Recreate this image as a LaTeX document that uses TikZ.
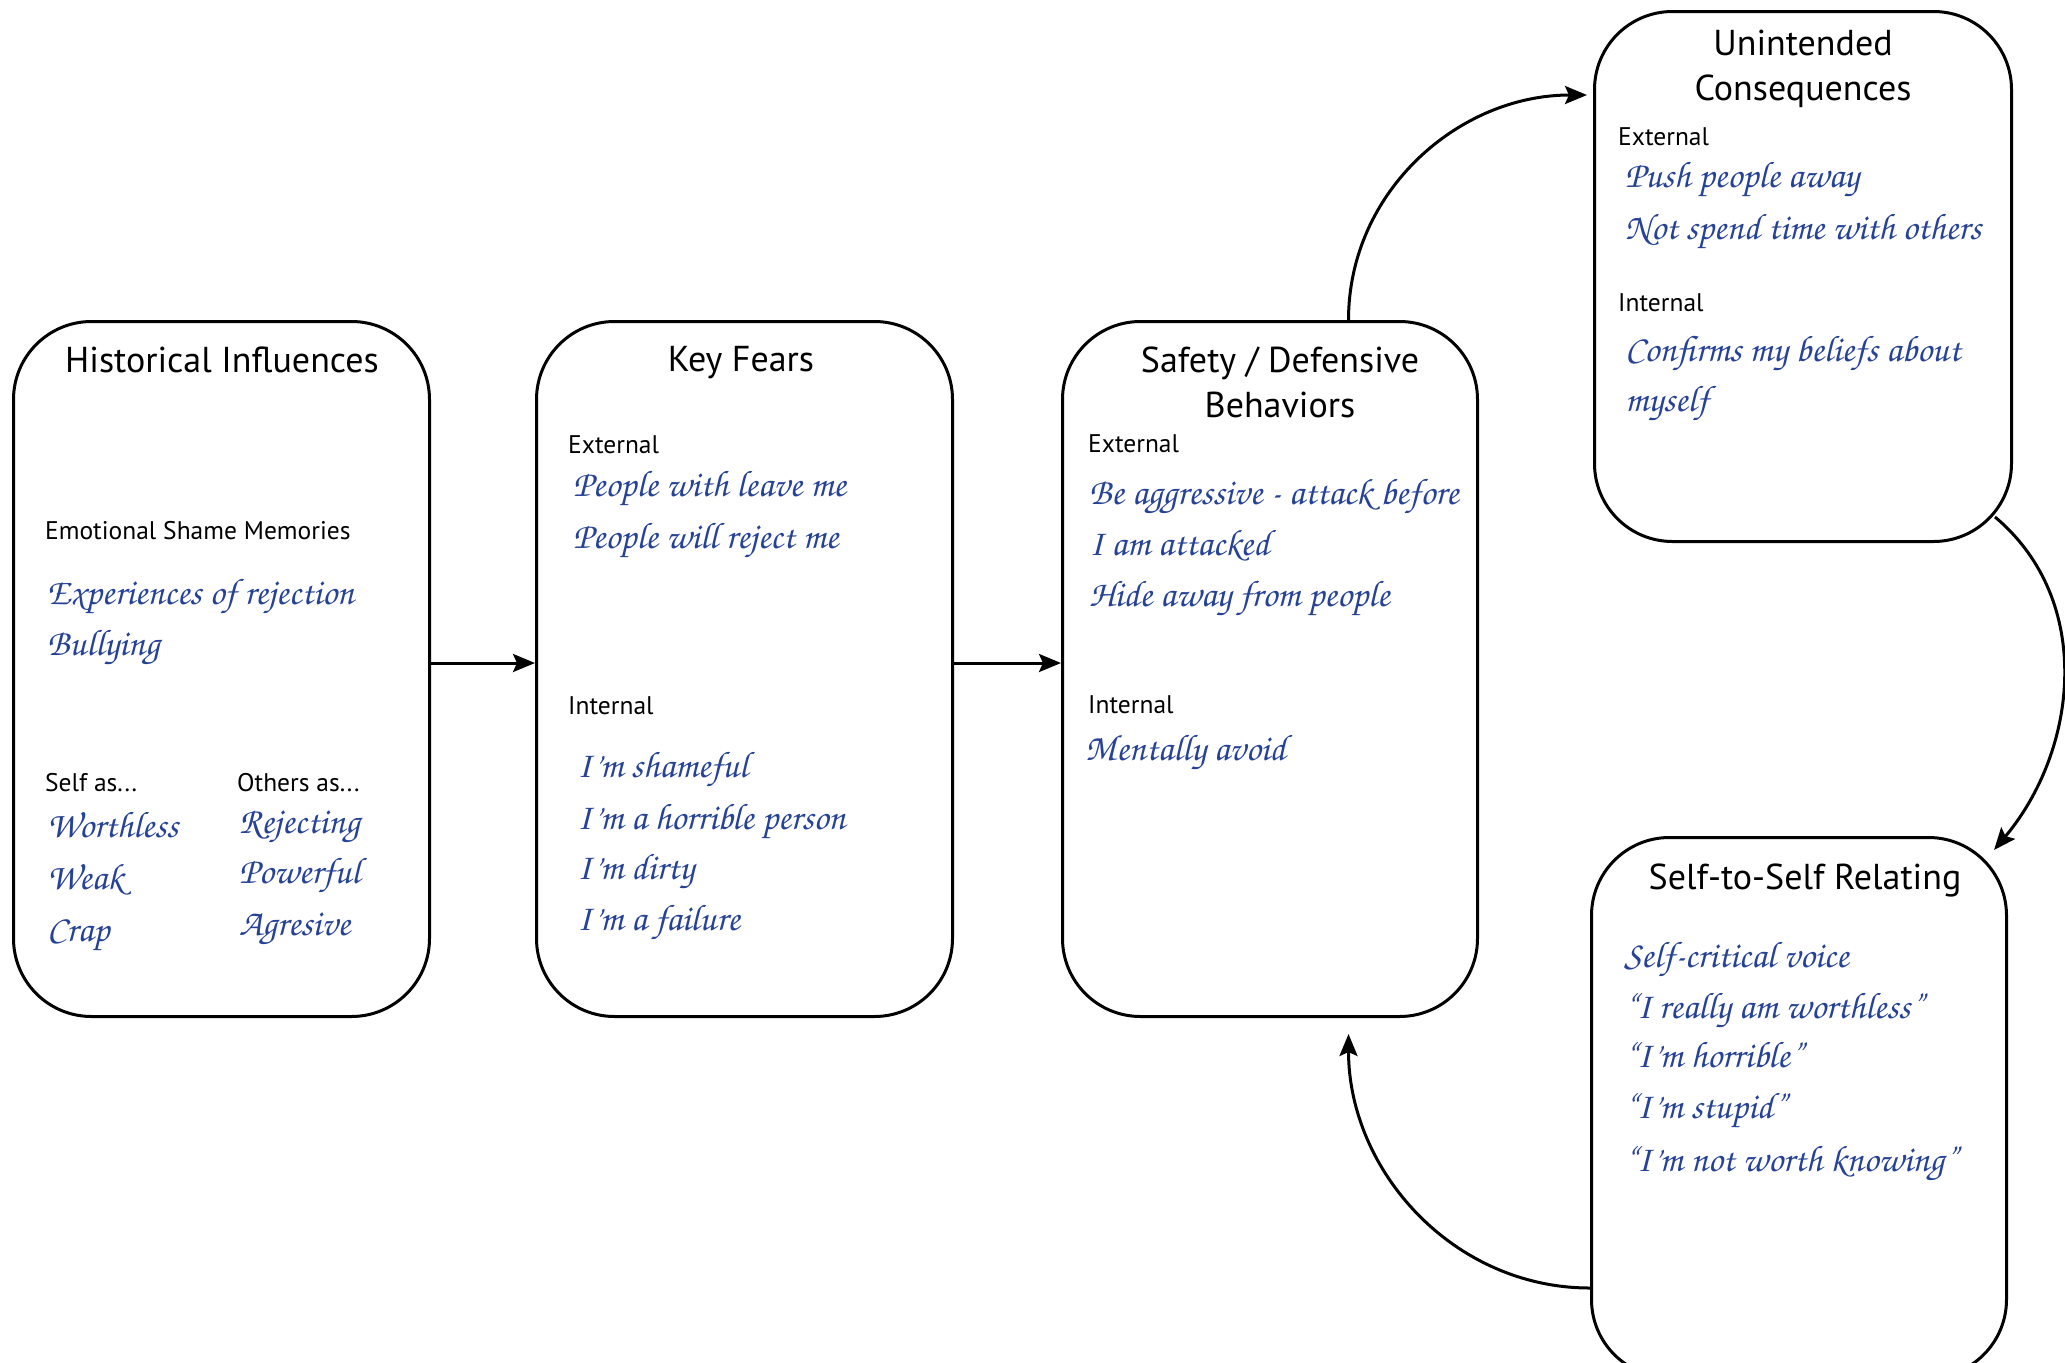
\documentclass[tikz,border=0pt]{standalone}
\usepackage[T1]{fontenc}
\usepackage{fontspec}
\setmainfont{PT Sans}
\usetikzlibrary{arrows.meta,calc}
\definecolor{hand}{RGB}{38,66,150}
\newcommand\hwfont{\color{hand}\fontencoding{T1}\fontfamily{pzc}\fontseries{mb}\fontshape{it}\fontsize{37}{42}\selectfont}
\begin{document}
\begin{tikzpicture}[x=1pt,y=-1pt,
  box/.style={draw, line width=3pt, rounded corners=78pt, anchor=north west, inner sep=0pt},
  ttl/.style={font=\fontsize{36}{42}\selectfont, anchor=base, inner sep=0pt},
  lbl/.style={font=\fontsize{25.5}{30}\selectfont, anchor=base west, inner sep=0pt},
  hand/.style={font=\hwfont, anchor=base west, inner sep=0pt},
  conn/.style={line width=3pt, -{Stealth[length=22pt,width=18pt,inset=4pt]}}]
\useasboundingbox (0,0) rectangle (2065,1363);
% boxes
\node[box, minimum width=416pt, minimum height=695pt] (hi) at (12,320) {};
\node[box, minimum width=416pt, minimum height=695pt] (kf) at (535,320) {};
\node[box, minimum width=415pt, minimum height=695pt] (sd) at (1061,320) {};
\node[box, minimum width=417pt, minimum height=530pt] (uc) at (1593,10) {};
\node[box, minimum width=415pt, minimum height=540pt] (ss) at (1590,836) {};
% Historical Influences
\node[ttl] (hiT) at (222,372) {Historical Influences};
\node[lbl] (hiA) at (45,539) {Emotional Shame Memories};
\node[hand] (hiB) at (47,604) {Experiences of rejection};
\node[hand] (hiC) at (47,655) {Bullying};
\node[lbl] (hiD) at (45,791) {Self as...};
\node[lbl] (hiE) at (237,791) {Others as...};
\node[hand] (hiF) at (47,837) {Worthless};
\node[hand] (hiG) at (47,889) {Weak};
\node[hand] (hiH) at (47,941) {Crap};
\node[hand] (hiI) at (239,833) {Rejecting};
\node[hand] (hiJ) at (239,883) {Powerful};
\node[hand] (hiK) at (239,935) {Agresive};
% Key Fears
\node[ttl] (kfT) at (741,371) {Key Fears};
\node[lbl] (kfA) at (568,453) {External};
\node[hand] (kfB) at (573,496) {People with leave me};
\node[hand] (kfC) at (573,548) {People will reject me};
\node[lbl] (kfD) at (568,714) {Internal};
\node[hand] (kfE) at (577,777) {I'm shameful};
\node[hand] (kfF) at (577,829) {I'm a horrible person};
\node[hand] (kfG) at (577,879) {I'm dirty};
\node[hand] (kfH) at (577,930) {I'm a failure};
% Safety
\node[ttl] (sdT) at (1280,372) {Safety / Defensive};
\node[ttl] (sdT2) at (1280,417) {Behaviors};
\node[lbl] (sdA) at (1088,452) {External};
\node[hand] (sdB) at (1089,504) {Be aggressive - attack before};
\node[hand] (sdC) at (1089,555) {I am attacked};
\node[hand] (sdD) at (1089,606) {Hide away from people};
\node[lbl] (sdE) at (1088,713) {Internal};
\node[hand] (sdF) at (1085,760) {Mentally avoid};
% Unintended
\node[ttl] (ucT) at (1803,55) {Unintended};
\node[ttl] (ucT2) at (1803,100) {Consequences};
\node[lbl] (ucA) at (1618,145) {External};
\node[hand] (ucB) at (1625,187) {Push people away};
\node[hand] (ucC) at (1625,239) {Not spend time with others};
\node[lbl] (ucD) at (1618,311) {Internal};
\node[hand] (ucE) at (1625,361) {Confirms my beliefs about};
\node[hand] (ucF) at (1625,411) {myself};
% Self-to-self
\node[ttl] (ssT) at (1805,889) {Self-to-Self Relating};
\node[hand] (ssA) at (1624,967) {Self-critical voice};
\node[hand] (ssB) at (1624,1018) {``I really am worthless''};
\node[hand] (ssC) at (1624,1067) {``I'm horrible''};
\node[hand] (ssD) at (1624,1118) {``I'm stupid''};
\node[hand] (ssE) at (1624,1171) {``I'm not worth knowing''};
% connectors
\draw[conn] ([yshift=6pt]hi.east) -- ([yshift=6pt]kf.west);
\draw[conn] ([yshift=6pt]kf.east) -- ([yshift=6pt]sd.west);
\draw[conn] ([xshift=78.5pt]sd.north) to[out=90,in=180] ([xshift=-6pt,yshift=-85pt]uc.north west);
\draw[conn] ([xshift=-18pt,yshift=26pt]uc.south east) to[out=-40,in=50] ([xshift=-14pt,yshift=-14pt]ss.north east);
\draw[conn] ([yshift=91pt]ss.south west) to[out=180,in=-90] ([xshift=78.5pt,yshift=-16pt]sd.south);
\end{tikzpicture}
\end{document}
